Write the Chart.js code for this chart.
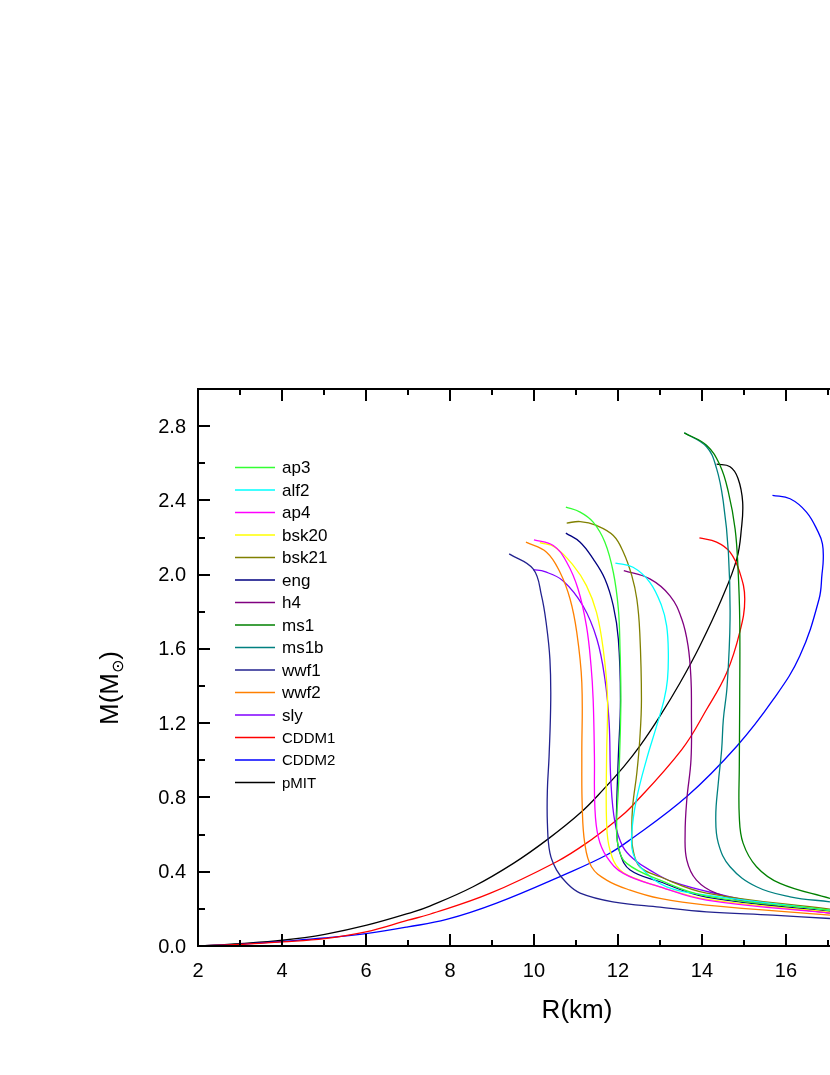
<!DOCTYPE html>
<html lang="en">
	<head>
		<meta charset="UTF-8" />
		<meta name="viewport" content="width=device-width, initial-scale=1.0" />
		<script src="https://cdn.jsdelivr.net/npm/chart.js@4.4.1/dist/chart.umd.min.js"></script>
		<style>
			body { margin: 0; background: #fff; overflow: hidden; }
			canvas { display: block; }
		</style>
	</head>

	<body>
		<canvas id="myChart" width="830" height="1075"></canvas>

		<script>
			// mass-radius curves, R in km, M in solar masses
			const ap3R = [17.05, 14.11, 13.0, 12.21, 12.01, 11.97, 12.01, 12.04, 12.07, 12.05, 12.01, 11.89, 11.69, 11.41, 11.10, 10.76];
			const ap3M = [0.193, 0.269, 0.355, 0.445, 0.535, 0.662, 0.842, 1.025, 1.328, 1.598, 1.815, 2.013, 2.175, 2.283, 2.337, 2.364];

			const alf2R = [17.05, 14.11, 13.16, 12.60, 12.36, 12.33, 12.44, 12.68, 12.92, 13.10, 13.18, 13.20, 13.16, 13.04, 12.76, 12.36, 11.94];
			const alf2M = [0.193, 0.274, 0.319, 0.409, 0.499, 0.608, 0.788, 1.004, 1.184, 1.328, 1.436, 1.581, 1.724, 1.832, 1.959, 2.040, 2.062];

			const ap4R = [17.05, 14.11, 13.0, 12.13, 11.73, 11.53, 11.45, 11.44, 11.41, 11.36, 11.25, 11.05, 10.78, 10.46, 10.0];
			const ap4M = [0.177, 0.247, 0.319, 0.391, 0.481, 0.589, 0.751, 1.022, 1.328, 1.508, 1.724, 1.923, 2.067, 2.157, 2.188];

			const bsk20R = [17.05, 14.11, 13.0, 12.52, 12.05, 11.81, 11.73, 11.73, 11.75, 11.65, 11.49, 11.25, 10.94, 10.5, 10.14];
			const bsk20M = [0.182, 0.252, 0.319, 0.355, 0.409, 0.517, 0.662, 1.022, 1.346, 1.598, 1.797, 1.941, 2.049, 2.148, 2.172];

			const bsk21R = [17.05, 14.11, 13.0, 12.52, 12.36, 12.33, 12.35, 12.45, 12.52, 12.56, 12.52, 12.45, 12.33, 12.13, 11.89, 11.49, 11.10, 10.78];
			const bsk21M = [0.198, 0.285, 0.373, 0.427, 0.517, 0.608, 0.751, 0.932, 1.112, 1.328, 1.689, 1.869, 1.995, 2.121, 2.211, 2.265, 2.286, 2.278];

			const engR = [17.05, 14.11, 13.0, 12.29, 12.05, 11.97, 11.97, 12.01, 12.06, 12.01, 11.89, 11.69, 11.41, 11.10, 10.76];
			const engM = [0.187, 0.263, 0.346, 0.409, 0.499, 0.608, 0.751, 1.022, 1.328, 1.652, 1.832, 1.977, 2.085, 2.175, 2.224];

			const h4R = [17.05, 15.30, 14.35, 13.87, 13.64, 13.60, 13.64, 13.74, 13.75, 13.74, 13.67, 13.52, 13.24, 12.76, 12.14];
			const h4M = [0.177, 0.229, 0.283, 0.355, 0.463, 0.608, 0.788, 1.004, 1.274, 1.436, 1.616, 1.761, 1.886, 1.977, 2.022];

			const ms1R = [17.05, 15.86, 15.30, 14.98, 14.89, 14.89, 14.90, 14.90, 14.86, 14.79, 14.63, 14.43, 14.11, 13.58];
			const ms1M = [0.256, 0.337, 0.427, 0.554, 0.697, 0.968, 1.328, 1.761, 2.031, 2.247, 2.445, 2.589, 2.697, 2.764];

			const ms1bR = [17.05, 16.10, 15.30, 14.67, 14.39, 14.33, 14.39, 14.47, 14.51, 14.60, 14.67, 14.63, 14.51, 14.35, 14.11, 13.58];
			const ms1bM = [0.238, 0.265, 0.319, 0.427, 0.554, 0.697, 0.878, 1.058, 1.220, 1.400, 1.761, 2.121, 2.391, 2.571, 2.689, 2.764];

			const wwf1R = [17.05, 15.69, 14.11, 13.0, 11.88, 11.10, 10.78, 10.54, 10.38, 10.32, 10.32, 10.36, 10.40, 10.38, 10.30, 10.18, 9.98, 9.41];
			const wwf1M = [0.148, 0.166, 0.184, 0.209, 0.238, 0.285, 0.339, 0.409, 0.501, 0.663, 0.842, 1.020, 1.328, 1.545, 1.725, 1.887, 2.031, 2.112];

			const wwf2R = [17.05, 14.11, 13.0, 12.29, 11.73, 11.37, 11.21, 11.15, 11.14, 11.14, 11.02, 10.86, 10.62, 10.30, 9.81];
			const wwf2M = [0.166, 0.220, 0.256, 0.301, 0.355, 0.427, 0.554, 0.751, 1.022, 1.418, 1.689, 1.869, 2.013, 2.121, 2.175];

			const slyR = [15.81, 14.5, 13.31, 12.76, 12.40, 12.12, 11.93, 11.83, 11.79, 11.69, 11.5, 11.17, 10.69, 10.26, 9.98];
			const slyM = [0.215, 0.274, 0.345, 0.409, 0.463, 0.534, 0.664, 0.896, 1.204, 1.437, 1.652, 1.831, 1.967, 2.016, 2.027];

			const cddm1R = [2, 3, 4.01, 5.02, 6.0, 7.0, 7.52, 8.95, 10.54, 11.25, 11.97, 12.29, 13.52, 14.11, 14.59, 14.90, 15.02, 14.90, 14.67, 14.35, 13.94];
			const cddm1M = [0, 0.008, 0.022, 0.040, 0.076, 0.139, 0.171, 0.283, 0.454, 0.554, 0.679, 0.743, 1.058, 1.274, 1.472, 1.689, 1.869, 2.013, 2.121, 2.175, 2.198];

			const cddm2R = [2, 3, 4.01, 5.02, 6.0, 7.0, 7.92, 9.11, 10.70, 11.73, 12.29, 13.64, 14.83, 15.70, 16.33, 16.79, 16.86, 16.89, 16.87, 16.77, 16.49, 16.10, 15.68];
			const cddm2M = [0, 0.009, 0.025, 0.043, 0.067, 0.103, 0.143, 0.231, 0.382, 0.490, 0.572, 0.805, 1.076, 1.328, 1.562, 1.869, 2.004, 2.085, 2.166, 2.229, 2.337, 2.409, 2.427];

			const pmitR = [2, 3, 4.01, 5.02, 6.02, 7.13, 7.52, 8.55, 9.51, 10.34, 11.10, 11.65, 12.14, 12.52, 13.0, 13.48, 13.95, 14.47, 14.83, 14.94, 14.97, 14.86, 14.67, 14.35];
			const pmitM = [0, 0.013, 0.031, 0.063, 0.112, 0.184, 0.215, 0.319, 0.445, 0.577, 0.716, 0.842, 0.966, 1.076, 1.238, 1.418, 1.616, 1.869, 2.085, 2.247, 2.391, 2.518, 2.581, 2.595];

			const seriesNames = ['ap3', 'alf2', 'ap4', 'bsk20', 'bsk21', 'eng', 'h4', 'ms1', 'ms1b', 'wwf1', 'wwf2', 'sly', 'CDDM1', 'CDDM2', 'pMIT'];
			const seriesR = [ap3R, alf2R, ap4R, bsk20R, bsk21R, engR, h4R, ms1R, ms1bR, wwf1R, wwf2R, slyR, cddm1R, cddm2R, pmitR];
			const seriesM = [ap3M, alf2M, ap4M, bsk20M, bsk21M, engM, h4M, ms1M, ms1bM, wwf1M, wwf2M, slyM, cddm1M, cddm2M, pmitM];

			const xTicks = [2, 4, 6, 8, 10, 12, 14, 16];
			const yTicks = ['0.0', '0.4', '0.8', '1.2', '1.6', '2.0', '2.4', '2.8'];

			const colors = ['#33ff33', '#00ffff', '#ff00ff', '#ffff00', '#808000', '#000080', '#800080', '#008000', '#008080', '#22228f', '#ff8000', '#8000ff', '#ff0000', '#0000ff', '#000000'];
			const FONT = '"Liberation Sans", Arial, sans-serif';

			// frame, inward ticks, labels, titles and the legend
			const decorations = {
				id: 'decorations',
				afterDatasetsDraw(chart) {
					const ctx = chart.ctx;
					const a = chart.chartArea;
					const xs = chart.scales.x;
					const ys = chart.scales.y;
					ctx.save();
					ctx.strokeStyle = '#000';
					ctx.fillStyle = '#000';

					// frame
					ctx.lineWidth = 2;
					ctx.beginPath();
					ctx.moveTo(a.right + 2, a.top);
					ctx.lineTo(a.left, a.top);
					ctx.lineTo(a.left, a.bottom);
					ctx.lineTo(a.right + 2, a.bottom);
					ctx.stroke();

					// x ticks, bottom and top
					for (let v = 2; v <= 17; v++) {
						const px = Math.round(xs.getPixelForValue(v));
						const len = v % 2 === 0 ? 12 : 6;
						ctx.beginPath();
						ctx.moveTo(px, a.bottom);
						ctx.lineTo(px, a.bottom - len);
						ctx.moveTo(px, a.top);
						ctx.lineTo(px, a.top + len);
						ctx.stroke();
					}
					// y ticks
					for (let i = 0; i <= 15; i++) {
						const v = i * 0.2;
						const py = Math.round(ys.getPixelForValue(v));
						const len = i % 2 === 0 ? 12 : 7;
						ctx.beginPath();
						ctx.moveTo(a.left, py);
						ctx.lineTo(a.left + len, py);
						ctx.stroke();
					}

					// tick labels
					ctx.font = '20px ' + FONT;
					ctx.textAlign = 'center';
					ctx.textBaseline = 'alphabetic';
					xTicks.forEach((v) => {
						ctx.fillText(String(v), xs.getPixelForValue(v), a.bottom + 31);
					});
					ctx.textAlign = 'right';
					ctx.textBaseline = 'middle';
					yTicks.forEach((t) => {
						ctx.fillText(t, a.left - 12, ys.getPixelForValue(parseFloat(t)) + 1);
					});

					// axis titles
					ctx.font = '26px ' + FONT;
					ctx.textAlign = 'center';
					ctx.textBaseline = 'alphabetic';
					ctx.fillText('R(km)', 577, 1018);

					ctx.save();
					ctx.translate(118, 688);
					ctx.rotate(-Math.PI / 2);
					const p1 = 'M(M';
					const sub = '\u2299';
					const p2 = ')';
					ctx.font = '26px ' + FONT;
					const w1 = ctx.measureText(p1).width;
					const w3 = ctx.measureText(p2).width;
					ctx.font = '16px "DejaVu Sans", sans-serif';
					const w2 = ctx.measureText(sub).width;
					let x0 = -(w1 + w2 + w3) / 2;
					ctx.textAlign = 'left';
					ctx.font = '26px ' + FONT;
					ctx.fillText(p1, x0, 0);
					ctx.font = '16px "DejaVu Sans", sans-serif';
					ctx.fillText(sub, x0 + w1, 5);
					ctx.font = '26px ' + FONT;
					ctx.fillText(p2, x0 + w1 + w2, 0);
					ctx.restore();

					// legend
					ctx.textAlign = 'left';
					ctx.textBaseline = 'middle';
					chart.data.datasets.forEach((ds, i) => {
						const y = 467.5 + i * 22.5;
						ctx.strokeStyle = ds.borderColor;
						ctx.lineWidth = 1.5;
						ctx.beginPath();
						ctx.moveTo(235, y);
						ctx.lineTo(275, y);
						ctx.stroke();
						ctx.font = (i < 12 ? '17px ' : '15px ') + FONT;
						ctx.fillText(ds.label, 282, y + 1);
					});
					ctx.restore();
				},
			};

			window.addEventListener('load', setup);
			function setup() {
				const ctx = document.getElementById('myChart').getContext('2d');
				const datasets = seriesNames.map((name, i) => ({
					label: name,
					data: seriesR[i].map((r, j) => ({ x: r, y: seriesM[i][j] })),
					showLine: true,
					borderColor: colors[i],
					backgroundColor: colors[i],
					borderWidth: 1.3,
					pointRadius: 0,
					tension: 0.4,
					fill: false,
				}));
				new Chart(ctx, {
					type: 'scatter',
					data: { datasets },
					options: {
						responsive: false,
						animation: false,
						devicePixelRatio: 1,
						layout: { padding: { left: 198, top: 389, right: 0, bottom: 129 } },
						plugins: { legend: { display: false }, tooltip: { enabled: false } },
						scales: {
							x: { type: 'linear', display: false, min: 2, max: 17.05 },
							y: { type: 'linear', display: false, min: 0, max: 3.0 },
						},
					},
					plugins: [decorations],
				});
			}
		</script>
	</body>
</html>
